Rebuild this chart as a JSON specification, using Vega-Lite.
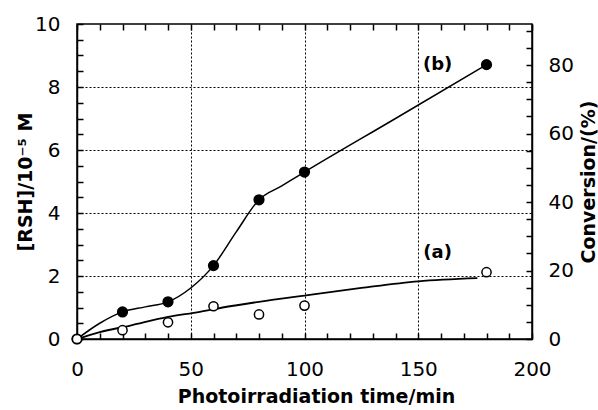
{
  "$schema": "https://vega.github.io/schema/vega-lite/v6.json",
  "width": 455,
  "height": 315,
  "autosize": {"type": "none"},
  "padding": {"left": 77, "top": 24, "right": 66, "bottom": 71},
  "background": "white",
  "config": {
    "view": {"stroke": "black", "strokeWidth": 1.5},
    "axis": {
      "domainColor": "black",
      "domainWidth": 1.5,
      "labelFont": "DejaVu Sans",
      "labelFontSize": 20,
      "labelColor": "black",
      "titleFont": "DejaVu Sans",
      "titleFontWeight": "bold",
      "titleFontSize": 19,
      "titleColor": "black",
      "gridColor": "black",
      "gridDash": [2, 2],
      "gridWidth": 1
    }
  },
  "datasets": {
    "main": [
      {"series": "b", "kind": "curve", "t": 0, "v": 0},
      {"series": "b", "kind": "curve", "t": 10, "v": 0.5},
      {"series": "b", "kind": "curve", "t": 20, "v": 0.86},
      {"series": "b", "kind": "curve", "t": 30, "v": 1.02},
      {"series": "b", "kind": "curve", "t": 40, "v": 1.18},
      {"series": "b", "kind": "curve", "t": 50, "v": 1.62},
      {"series": "b", "kind": "curve", "t": 60, "v": 2.33},
      {"series": "b", "kind": "curve", "t": 70, "v": 3.4},
      {"series": "b", "kind": "curve", "t": 80, "v": 4.42},
      {"series": "b", "kind": "curve", "t": 90, "v": 4.86},
      {"series": "b", "kind": "curve", "t": 100, "v": 5.3},
      {"series": "b", "kind": "curve", "t": 140, "v": 7.0},
      {"series": "b", "kind": "curve", "t": 180, "v": 8.71},
      {"series": "a", "kind": "curve", "t": 0, "v": 0},
      {"series": "a", "kind": "curve", "t": 10, "v": 0.22},
      {"series": "a", "kind": "curve", "t": 23, "v": 0.42},
      {"series": "a", "kind": "curve", "t": 40, "v": 0.7},
      {"series": "a", "kind": "curve", "t": 54, "v": 0.86},
      {"series": "a", "kind": "curve", "t": 64, "v": 1.0},
      {"series": "a", "kind": "curve", "t": 80, "v": 1.18},
      {"series": "a", "kind": "curve", "t": 100, "v": 1.38},
      {"series": "a", "kind": "curve", "t": 125, "v": 1.62},
      {"series": "a", "kind": "curve", "t": 150, "v": 1.83},
      {"series": "a", "kind": "curve", "t": 176, "v": 1.93},
      {"series": "b", "kind": "point", "t": 0, "v": 0},
      {"series": "b", "kind": "point", "t": 20, "v": 0.86},
      {"series": "b", "kind": "point", "t": 40, "v": 1.18},
      {"series": "b", "kind": "point", "t": 60, "v": 2.33},
      {"series": "b", "kind": "point", "t": 80, "v": 4.42},
      {"series": "b", "kind": "point", "t": 100, "v": 5.3},
      {"series": "b", "kind": "point", "t": 180, "v": 8.71},
      {"series": "a", "kind": "point", "t": 0, "v": 0},
      {"series": "a", "kind": "point", "t": 20, "v": 0.28},
      {"series": "a", "kind": "point", "t": 40, "v": 0.53},
      {"series": "a", "kind": "point", "t": 60, "v": 1.04},
      {"series": "a", "kind": "point", "t": 80, "v": 0.78},
      {"series": "a", "kind": "point", "t": 100, "v": 1.06},
      {"series": "a", "kind": "point", "t": 180, "v": 2.12},
      {"series": "b", "kind": "label", "t": 158.5, "v": 8.7, "text": "(b)"},
      {"series": "a", "kind": "label", "t": 158.5, "v": 2.72, "text": "(a)"}
    ],
    "right": [
      {"t": 0, "v": 0, "conv": 0},
      {"t": 200, "v": 10, "conv": 92}
    ]
  },
  "layer": [
    {
      "data": {"name": "main"},
      "encoding": {
        "x": {
          "field": "t",
          "type": "quantitative",
          "scale": {"domain": [0, 200], "nice": false, "zero": false},
          "axis": {
            "orient": "bottom",
            "title": "Photoirradiation  time/min",
            "titleX": 239,
            "values": [0, 50, 100, 150, 200],
            "ticks": false,
            "labelPadding": 20,
            "labelFlush": false,
            "labelOverlap": false,
            "titlePadding": 8,
            "grid": true,
            "gridOpacity": {"condition": {"test": "datum.value > 0 && datum.value < 200", "value": 1}, "value": 0}
          }
        },
        "y": {
          "field": "v",
          "type": "quantitative",
          "scale": {"domain": [0, 10], "nice": false, "zero": false},
          "axis": {
            "orient": "left",
            "title": "[RSH]/10⁻⁵ M",
            "values": [0, 2, 4, 6, 8, 10],
            "ticks": false,
            "labelPadding": 17,
            "labelFlush": false,
            "labelOverlap": false,
            "titlePadding": -1,
            "grid": true,
            "gridOpacity": {"condition": {"test": "datum.value > 0 && datum.value < 10", "value": 1}, "value": 0}
          }
        }
      },
      "layer": [
        {
          "transform": [{"filter": "datum.kind === 'curve' && datum.series === 'b'"}],
          "mark": {"type": "line", "color": "black", "strokeWidth": 1.5, "interpolate": "monotone"}
        },
        {
          "transform": [{"filter": "datum.kind === 'curve' && datum.series === 'a'"}],
          "mark": {"type": "line", "color": "black", "strokeWidth": 1.8, "interpolate": "monotone"}
        },
        {
          "transform": [{"filter": "datum.kind === 'point' && datum.series === 'b'"}],
          "mark": {"type": "point", "shape": "circle", "filled": true, "fill": "black", "stroke": "black", "size": 85, "opacity": 1}
        },
        {
          "transform": [{"filter": "datum.kind === 'point' && datum.series === 'a'"}],
          "mark": {"type": "point", "shape": "circle", "filled": true, "fill": "white", "stroke": "black", "strokeWidth": 1.5, "size": 85, "opacity": 1}
        },
        {
          "transform": [{"filter": "datum.kind === 'label'"}],
          "mark": {"type": "text", "font": "DejaVu Sans", "fontWeight": "bold", "fontSize": 18, "color": "black", "align": "center", "baseline": "middle"},
          "encoding": {"text": {"field": "text", "type": "nominal"}}
        }
      ]
    },
    {
      "data": {"name": "right"},
      "mark": {"type": "point", "opacity": 0},
      "encoding": {
        "x": {
          "field": "t",
          "type": "quantitative",
          "scale": {"domain": [0, 200], "nice": false, "zero": false},
          "axis": {
            "orient": "top",
            "title": "",
            "labels": false,
            "domain": false,
            "offset": -6,
            "ticks": true,
            "tickSize": 6,
            "tickColor": "black",
            "tickWidth": 1.5,
            "values": [0, 10, 20, 30, 40, 50, 60, 70, 80, 90, 100, 110, 120, 130, 140, 150, 160, 170, 180, 190, 200],
            "grid": false
          }
        },
        "y": {
          "field": "conv",
          "type": "quantitative",
          "scale": {"domain": [0, 92], "nice": false, "zero": false},
          "axis": {
            "orient": "right",
            "title": "Conversion/(%)",
            "titleAngle": 270,
            "titleBaseline": "top",
            "values": [0, 20, 40, 60, 80],
            "ticks": false,
            "labelPadding": 16,
            "labelFlush": false,
            "labelOverlap": false,
            "titlePadding": 6,
            "grid": false
          }
        }
      }
    },
    {
      "data": {"name": "right"},
      "mark": {"type": "point", "opacity": 0},
      "encoding": {
        "x": {
          "field": "t",
          "type": "quantitative",
          "scale": {"domain": [0, 200], "nice": false, "zero": false},
          "axis": {
            "orient": "bottom",
            "title": "",
            "labels": false,
            "domain": false,
            "offset": -6,
            "ticks": true,
            "tickSize": 6,
            "tickColor": "black",
            "tickWidth": 1.5,
            "values": [0, 10, 20, 30, 40, 50, 60, 70, 80, 90, 100, 110, 120, 130, 140, 150, 160, 170, 180, 190, 200],
            "grid": false
          }
        },
        "y": {
          "field": "v",
          "type": "quantitative",
          "scale": {"domain": [0, 10], "nice": false, "zero": false},
          "axis": {
            "orient": "left",
            "title": "",
            "labels": false,
            "domain": false,
            "offset": -6,
            "ticks": true,
            "tickSize": 6,
            "tickColor": "black",
            "tickWidth": 1.5,
            "values": [0, 0.5, 1, 1.5, 2, 2.5, 3, 3.5, 4, 4.5, 5, 5.5, 6, 6.5, 7, 7.5, 8, 8.5, 9, 9.5, 10],
            "grid": false
          }
        }
      }
    },
    {
      "data": {"name": "right"},
      "mark": {"type": "point", "opacity": 0},
      "encoding": {
        "x": {
          "field": "t",
          "type": "quantitative",
          "scale": {"domain": [0, 200], "nice": false, "zero": false},
          "axis": null
        },
        "y": {
          "field": "conv",
          "type": "quantitative",
          "scale": {"domain": [0, 92], "nice": false, "zero": false},
          "axis": {
            "orient": "right",
            "title": "",
            "labels": false,
            "domain": false,
            "offset": -6,
            "ticks": true,
            "tickSize": 6,
            "tickColor": "black",
            "tickWidth": 1.5,
            "values": [0, 5, 10, 15, 20, 25, 30, 35, 40, 45, 50, 55, 60, 65, 70, 75, 80, 85, 90],
            "grid": false
          }
        }
      }
    }
  ],
  "resolve": {"scale": {"y": "independent"}, "axis": {"x": "independent", "y": "independent"}}
}
